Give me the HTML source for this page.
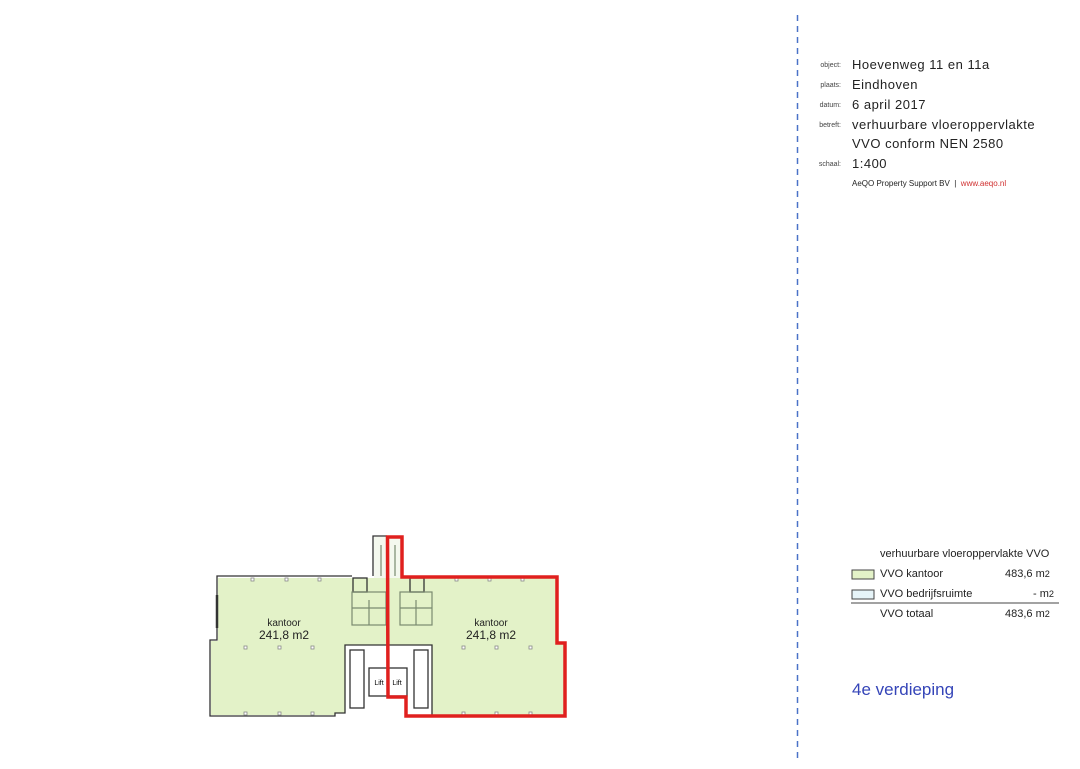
<!DOCTYPE html>
<html><head><style>
body{margin:0;width:1080px;height:769px;background:#fff;overflow:hidden;font-family:"Liberation Sans",sans-serif}
svg{position:absolute;left:0;top:0}
.t{position:absolute;white-space:nowrap;color:#222}
.l{font-size:7px;color:#444;text-align:right;width:40px}
.v{font-size:13px;letter-spacing:0.5px}
</style></head><body>
<svg width="1080" height="769">
<line x1="797.5" y1="15" x2="797.5" y2="762" stroke="#4a72c8" stroke-width="1.5" stroke-dasharray="6,5"/>
<polygon points="218,578 352,578 352,645 345,645 345,713 335,713 335,715 211,715 211,641 218,641" fill="#e3f2c8"/>
<polygon points="352,578 432,578 432,645 352,645" fill="#e3f2c8"/>
<polygon points="402,578 557,578 557,644 565,644 565,715 432,715 432,645 402,645" fill="#e3f2c8"/>
<polygon points="374,537 402,537 402,578 374,578" fill="#f4f8ee"/>
<g fill="none" stroke="#333" stroke-width="1.3">
<polyline points="352,576 217,576 217,640 210,640 210,716 335,716 335,713 345,713 345,645 432,645 432,716"/>
<polyline points="373,576 373,536 387,536"/>
<rect x="353" y="578" width="14" height="14"/>
<rect x="410" y="578" width="14" height="14"/>
<rect x="350" y="650" width="14" height="58"/>
<rect x="414" y="650" width="14" height="58"/>
<rect x="369" y="668" width="38" height="28"/>
<line x1="217" y1="595" x2="217" y2="628" stroke-width="2.5"/>
</g>
<g fill="none" stroke="#7a8a70" stroke-width="1.2">
<rect x="352" y="592" width="34" height="33"/>
<rect x="400" y="592" width="32" height="33"/>
<line x1="369" y1="600" x2="369" y2="625"/><line x1="416" y1="600" x2="416" y2="625"/>
<line x1="352" y1="608" x2="386" y2="608"/><line x1="400" y1="608" x2="432" y2="608"/>
<line x1="381" y1="545" x2="381" y2="576"/><line x1="395" y1="545" x2="395" y2="576"/>
</g>
<g fill="#fff" stroke="#888" stroke-width="0.8">
<rect x="251" y="578" width="3" height="3"/><rect x="285" y="578" width="3" height="3"/><rect x="318" y="578" width="3" height="3"/>
<rect x="244" y="646" width="3" height="3"/><rect x="278" y="646" width="3" height="3"/><rect x="311" y="646" width="3" height="3"/>
<rect x="244" y="712" width="3" height="3"/><rect x="278" y="712" width="3" height="3"/><rect x="311" y="712" width="3" height="3"/>
<rect x="455" y="578" width="3" height="3"/><rect x="488" y="578" width="3" height="3"/><rect x="521" y="578" width="3" height="3"/>
<rect x="462" y="646" width="3" height="3"/><rect x="495" y="646" width="3" height="3"/><rect x="529" y="646" width="3" height="3"/>
<rect x="462" y="712" width="3" height="3"/><rect x="495" y="712" width="3" height="3"/><rect x="529" y="712" width="3" height="3"/>
</g>
<polygon points="387.5,537 402,537 402,577 557,577 557,643 565,643 565,716 406,716 406,697 388,697" fill="none" stroke="#e0201e" stroke-width="3.5"/>
<text x="284" y="626" font-size="10" text-anchor="middle" fill="#222">kantoor</text>
<text x="284" y="639" font-size="12" text-anchor="middle" fill="#222">241,8 m2</text>
<text x="491" y="626" font-size="10" text-anchor="middle" fill="#222">kantoor</text>
<text x="491" y="639" font-size="12" text-anchor="middle" fill="#222">241,8 m2</text>
<text x="379" y="685" font-size="7" text-anchor="middle">Lift</text>
<text x="397" y="685" font-size="7" text-anchor="middle">Lift</text>
<rect x="852" y="570" width="22" height="9" fill="#e3f2c8" stroke="#444"/>
<rect x="852" y="590" width="22" height="9" fill="#e6f4f8" stroke="#444"/>
<line x1="851" y1="603" x2="1059" y2="603" stroke="#444"/>
</svg>
<div class="t l" style="left:801px;top:62px">object:</div><div class="t v" style="left:852px;top:57px">Hoevenweg 11 en 11a</div>
<div class="t l" style="left:801px;top:82px">plaats:</div><div class="t v" style="left:852px;top:77px">Eindhoven</div>
<div class="t l" style="left:801px;top:102px">datum:</div><div class="t v" style="left:852px;top:97px">6 april 2017</div>
<div class="t l" style="left:801px;top:122px">betreft:</div><div class="t v" style="left:852px;top:117px">verhuurbare vloeroppervlakte</div>
<div class="t v" style="left:852px;top:136px">VVO conform NEN 2580</div>
<div class="t l" style="left:801px;top:161px">schaal:</div><div class="t v" style="left:852px;top:156px">1:400</div>
<div class="t" style="left:852px;top:179px;font-size:8px">AeQO Property Support BV &nbsp;| &nbsp;<span style="color:#d03030">www.aeqo.nl</span></div>
<div class="t" style="left:880px;top:548px;font-size:11px">verhuurbare vloeroppervlakte VVO</div>
<div class="t" style="left:880px;top:568px;font-size:11px">VVO kantoor</div><div class="t" style="left:1005px;top:568px;font-size:11px">483,6 m<small>2</small></div>
<div class="t" style="left:880px;top:588px;font-size:11px">VVO bedrijfsruimte</div><div class="t" style="left:1033px;top:588px;font-size:11px">- m<small>2</small></div>
<div class="t" style="left:880px;top:608px;font-size:11px">VVO totaal</div><div class="t" style="left:1005px;top:608px;font-size:11px">483,6 m<small>2</small></div>
<div class="t" style="left:852px;top:680px;font-size:17px;color:#3545b8">4e verdieping</div>
</body></html>
